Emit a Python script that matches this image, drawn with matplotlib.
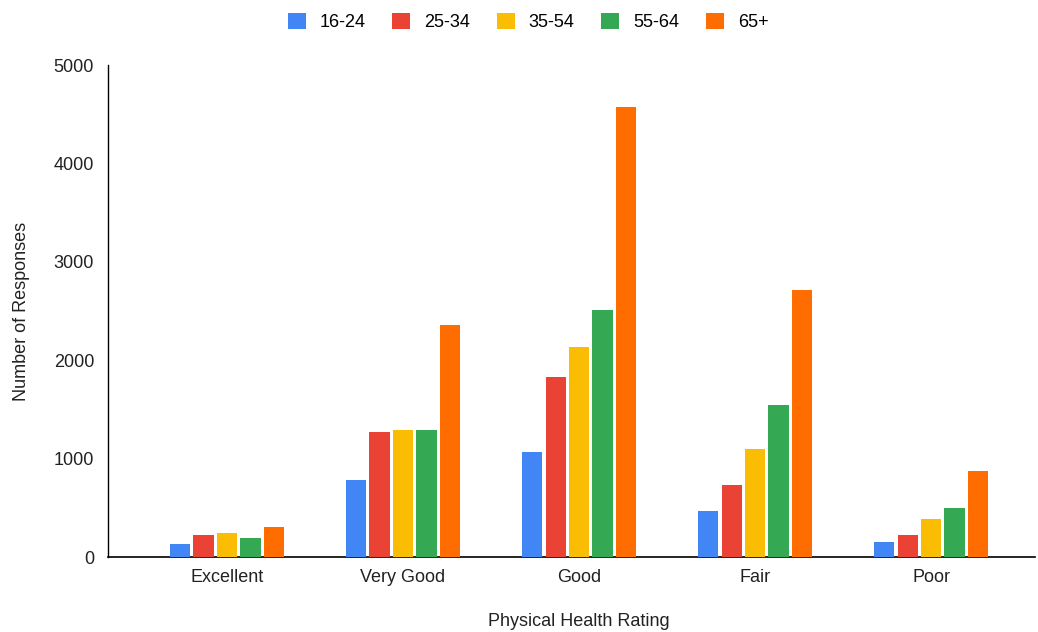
import matplotlib
matplotlib.use("Agg")
import matplotlib.pyplot as plt
import numpy as np

categories = ["Excellent", "Very Good", "Good", "Fair", "Poor"]
series_names = ["16-24", "25-34", "35-54", "55-64", "65+"]
v_16_24 = [132, 782, 1067, 464, 149]
v_25_34 = [227, 1270, 1829, 732, 224]
v_35_54 = [241, 1290, 2131, 1098, 383]
v_55_64 = [193, 1290, 2510, 1542, 495]
v_65p = [305, 2355, 4573, 2713, 874]
values = [v_16_24, v_25_34, v_35_54, v_55_64, v_65p]
colors = ["#4285F4", "#EA4335", "#FBBC04", "#34A853", "#FF6D01"]
yticks = [0, 1000, 2000, 3000, 4000, 5000]

plt.rcParams['font.family'] = ['Liberation Sans', 'DejaVu Sans']

fig = plt.figure(figsize=(10.38, 6.32), dpi=100)
ax = fig.add_axes([108/1038, 1 - 557/632, (1035-108)/1038, (557-65)/632])

x = np.arange(len(categories))
pitch = 0.133
width = 0.115
for i, (name, vals, c) in enumerate(zip(series_names, values, colors)):
    ax.bar(x + (i - 2) * pitch, vals, width=width, color=c, label=name, zorder=3)

ax.set_xlim(-0.676, 4.59)
ax.set_ylim(0, 5000)
ax.set_yticks(yticks)
ax.set_yticklabels([str(t) for t in yticks], fontsize=13, color="#222222")
ax.set_xticks(x)
ax.set_xticklabels(categories, fontsize=13, color="#222222")
ax.tick_params(axis='both', length=0)
ax.tick_params(axis='y', pad=10)
ax.tick_params(axis='x', pad=9)
for s in ["top", "right"]:
    ax.spines[s].set_visible(False)
ax.spines["left"].set_color("#000000")
ax.spines["bottom"].set_color("#000000")
ax.spines["left"].set_linewidth(1.0)
ax.spines["bottom"].set_linewidth(1.2)

ax.set_xlabel("Physical Health Rating", fontsize=13, color="#222222")
ax.xaxis.set_label_coords((579 - 108) / (1035 - 108), -(621 - 557) / (557 - 65), transform=ax.transAxes)
ax.xaxis.label.set_verticalalignment("center")
ax.set_ylabel("Number of Responses", fontsize=13, color="#222222", labelpad=17)

fig.legend(loc="upper center", bbox_to_anchor=(528/1038, 1.0), ncol=5, frameon=False,
           fontsize=13, handlelength=1.0, handleheight=1.0, handletextpad=0.75,
           columnspacing=1.5, borderaxespad=0.3)

fig.savefig("out.png", dpi=100, facecolor="white")
